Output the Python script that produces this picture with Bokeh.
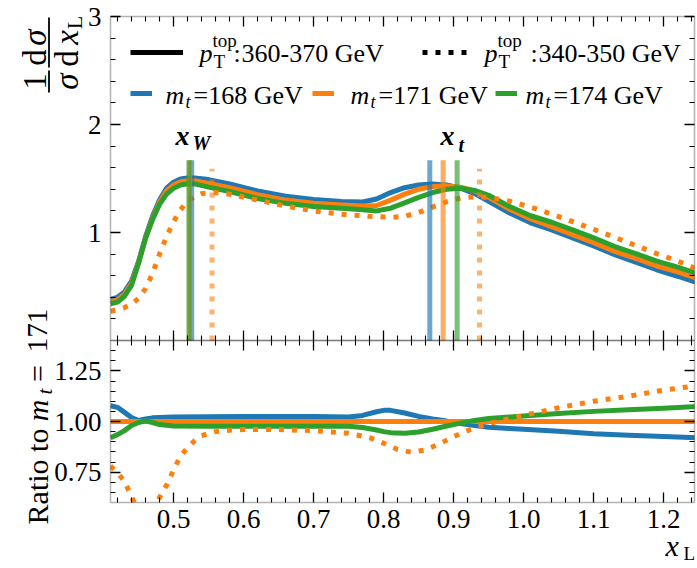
import math
from bokeh.plotting import figure
from bokeh.models import (Range1d, LinearAxis, FixedTicker, PrintfTickFormatter, Label,
                          Legend, LegendItem, BoxAnnotation)
from bokeh.core.properties import value
from bokeh.embed import file_html
from bokeh.resources import INLINE

# ---- normalised x_L distributions, p_T^top 360-370 GeV ----
x_top = [0.41, 0.42, 0.43, 0.44, 0.45, 0.46, 0.47, 0.48, 0.49, 0.50, 0.51, 0.52, 0.53,
         0.55, 0.58, 0.62, 0.66, 0.70, 0.74, 0.77, 0.79,
         0.81, 0.83, 0.85, 0.87, 0.89, 0.91, 0.93, 0.95, 0.98,
         1.01, 1.04, 1.07, 1.10, 1.13, 1.16, 1.19, 1.22, 1.25]
dist_168 = [0.38, 0.40, 0.45, 0.55, 0.73, 0.96, 1.15, 1.30, 1.41, 1.465, 1.495, 1.505, 1.505,
            1.49, 1.45, 1.385, 1.335, 1.305, 1.287, 1.282, 1.31,
            1.37, 1.415, 1.44, 1.45, 1.44, 1.41, 1.36, 1.29, 1.18,
            1.09, 1.025, 0.95, 0.875, 0.795, 0.725, 0.655, 0.595, 0.53]
dist_171 = [0.36, 0.375, 0.43, 0.53, 0.72, 0.945, 1.13, 1.28, 1.385, 1.44, 1.47, 1.48, 1.48,
            1.455, 1.415, 1.35, 1.30, 1.27, 1.255, 1.245, 1.25,
            1.30, 1.355, 1.40, 1.425, 1.43, 1.42, 1.385, 1.325, 1.215,
            1.125, 1.055, 0.98, 0.905, 0.825, 0.76, 0.69, 0.635, 0.57]
dist_174 = [0.34, 0.355, 0.41, 0.51, 0.715, 0.945, 1.12, 1.26, 1.355, 1.41, 1.44, 1.45, 1.45,
            1.42, 1.38, 1.315, 1.27, 1.24, 1.225, 1.21, 1.20,
            1.225, 1.275, 1.325, 1.37, 1.40, 1.41, 1.39, 1.345, 1.24,
            1.155, 1.095, 1.025, 0.95, 0.87, 0.805, 0.735, 0.68, 0.615]

# ---- p_T^top 340-350 GeV, m_t = 171 GeV ----
x_low = [0.41, 0.42, 0.43, 0.44, 0.45, 0.46, 0.47, 0.48, 0.49, 0.50, 0.51, 0.52, 0.53, 0.54,
         0.56, 0.58, 0.62, 0.66, 0.70, 0.74, 0.78,
         0.81, 0.83, 0.85, 0.87, 0.89, 0.91, 0.93, 0.95,
         0.98, 1.01, 1.04, 1.07, 1.10, 1.13, 1.16, 1.19, 1.22, 1.25]
dist_171_low = [0.27, 0.285, 0.305, 0.335, 0.39, 0.48, 0.62, 0.80, 0.96, 1.10, 1.21, 1.29, 1.335, 1.36,
                1.37, 1.355, 1.30, 1.245, 1.20, 1.17, 1.15,
                1.14, 1.15, 1.185, 1.235, 1.285, 1.32, 1.33, 1.325,
                1.29, 1.235, 1.17, 1.10, 1.03, 0.955, 0.88, 0.805, 0.735, 0.655]

# ---- ratios to m_t = 171 GeV ----
x_ratio = [0.41, 0.42, 0.43, 0.44, 0.45, 0.46, 0.47, 0.48, 0.50, 0.55, 0.60, 0.65, 0.70, 0.75,
           0.77, 0.79, 0.80, 0.81, 0.83, 0.85, 0.87, 0.89, 0.91, 0.93, 0.95, 0.98, 1.00,
           1.05, 1.10, 1.15, 1.20, 1.25]
ratio_168 = [1.078, 1.07, 1.045, 1.02, 1.005, 1.012, 1.018, 1.02, 1.022, 1.024, 1.025, 1.025, 1.025, 1.022,
             1.03, 1.048, 1.055, 1.055, 1.042, 1.025, 1.012, 1.002, 0.99, 0.98, 0.972, 0.966, 0.962,
             0.952, 0.94, 0.932, 0.926, 0.92]
ratio_174 = [0.92, 0.935, 0.955, 0.98, 0.995, 1.003, 0.995, 0.985, 0.978, 0.976, 0.977, 0.977, 0.977, 0.976,
             0.97, 0.958, 0.95, 0.945, 0.942, 0.948, 0.962, 0.978, 0.992, 1.005, 1.015, 1.022, 1.027,
             1.04, 1.05, 1.058, 1.065, 1.075]
x_ratio_ref = [0.41, 1.25]
ratio_171 = [1.0, 1.0]
x_ratio_low = [0.41, 0.42, 0.43, 0.44, 0.45, 0.46, 0.47, 0.48, 0.49, 0.50, 0.51, 0.52, 0.53, 0.54,
               0.56, 0.58, 0.60, 0.65, 0.70, 0.75,
               0.78, 0.80, 0.82, 0.84, 0.86, 0.88, 0.90, 0.92, 0.95,
               1.00, 1.05, 1.10, 1.15, 1.20, 1.25]
ratio_171_low = [0.78, 0.745, 0.705, 0.63, 0.555, 0.51, 0.55, 0.625, 0.685, 0.76, 0.83, 0.87, 0.905, 0.93,
                 0.95, 0.957, 0.96, 0.96, 0.955, 0.942,
                 0.92, 0.893, 0.862, 0.848, 0.86, 0.89, 0.925, 0.955, 0.99,
                 1.03, 1.068, 1.10, 1.125, 1.155, 1.178]

# ---- peak positions x_W and x_t ----
mass_labels = ["168", "171", "174"]
colors = ["#1f77b4", "#ff7f0e", "#2ca02c"]
xw_marks = [0.526, 0.523, 0.522]
xt_marks = [0.866, 0.885, 0.905]
xw_mark_low = [0.555]
xt_mark_low = [0.937]
mark_height = 1.67
mark_height_low = 1.59

# ---- axis limits and ticks ----
X_LO, X_HI = 0.41, 1.244
TOP_LO, TOP_HI = 0.0, 3.0
RAT_LO, RAT_HI = 0.6, 1.4
x_major = [0.5, 0.6, 0.7, 0.8, 0.9, 1.0, 1.1, 1.2]
x_minor = [round(0.42 + 0.02 * k, 4) for k in range(42)]
x_minor = [v for v in x_minor if v < X_HI and round(v * 10, 4) % 1]
top_major = [1.0, 2.0, 3.0]
top_minor = [round(0.2 * k, 4) for k in range(1, 15) if k % 5]
ratio_major = [0.75, 1.0, 1.25]
ratio_minor = [round(0.6 + 0.05 * k, 4) for k in range(1, 16)]
ratio_minor = [r for r in ratio_minor if r not in ratio_major]

SERIF = "Liberation Serif"
DOTS = "5 8"

# page geometry: the canvas is the frame; the axes box sits inside it
W, H = 697, 568
BOX_L, BOX_R, BOX_T, DIV, BOX_B = 110, 694, 16, 340, 502
sx = (BOX_R - BOX_L) / (X_HI - X_LO)
sy_top = (DIV - BOX_T) / (TOP_HI - TOP_LO)
sy_rat = (BOX_B - DIV) / (RAT_HI - RAT_LO)

x_range = Range1d(X_LO - BOX_L / sx, X_HI + (W - BOX_R) / sx)
y_range = Range1d(TOP_LO - (H - DIV) / sy_top, TOP_HI + BOX_T / sy_top)
rat_range = Range1d(RAT_LO - (H - BOX_B) / sy_rat, RAT_HI + DIV / sy_rat)
# bottom of the lower panel expressed in the main y range
MAIN_AT_RAT_LO = TOP_LO - (BOX_B - DIV) / sy_top

p = figure(width=W, height=H, title=None, x_range=x_range, y_range=y_range,
           output_backend="svg", toolbar_location=None, min_border=0)
p.extra_y_ranges = {"ratio": rat_range}
p.grid.visible = False
p.outline_line_color = None
p.background_fill_color = "white"
p.border_fill_color = "white"
p.xaxis.visible = False
p.yaxis.visible = False


def tick_axis(side, loc, major, minor, y_range_name="default", labels=False,
              tin=10, tout=0, min_in=5, min_out=0, fmt="%.1f"):
    ax = LinearAxis(fixed_location=loc, y_range_name=y_range_name)
    ax.ticker = FixedTicker(ticks=major if labels else [], minor_ticks=minor if labels else major)
    ax.axis_line_color = None
    ax.level = "overlay"
    ax.major_tick_line_color = "black"
    ax.minor_tick_line_color = "black"
    ax.major_tick_line_width = 1.3
    ax.minor_tick_line_width = 1.3 if not labels else 1.1
    ax.major_tick_in, ax.major_tick_out = tin, tout
    ax.minor_tick_in, ax.minor_tick_out = (min_in, min_out) if labels else (tin, tout)
    if labels:
        ax.formatter = PrintfTickFormatter(format=fmt)
        ax.major_label_text_font = SERIF
        ax.major_label_text_font_size = "27px"
        ax.major_label_text_color = "black"
    p.add_layout(ax, side)
    return ax


def minor_axis(side, loc, minor, y_range_name="default", tin=5, tout=0):
    ax = LinearAxis(fixed_location=loc, y_range_name=y_range_name)
    ax.ticker = FixedTicker(ticks=[], minor_ticks=minor)
    ax.axis_line_color = None
    ax.level = "overlay"
    ax.minor_tick_line_color = "black"
    ax.minor_tick_line_width = 1.1
    ax.minor_tick_in, ax.minor_tick_out = tin, tout
    p.add_layout(ax, side)


# bottom x axis (labelled), top edge and panel divider
xb = tick_axis("below", MAIN_AT_RAT_LO, x_major, x_minor, labels=True)
xb.major_label_standoff = 7
tick_axis("above", TOP_HI, x_major, None)
minor_axis("above", TOP_HI, x_minor)
tick_axis("below", TOP_LO, x_major, None, tout=10)
minor_axis("below", TOP_LO, x_minor, tout=5)

# left y axes (labelled) and right edges
yl = tick_axis("left", X_LO, top_major, top_minor, labels=True, fmt="%d")
yl.major_label_standoff = 9
yr = tick_axis("left", X_LO, ratio_major, ratio_minor, y_range_name="ratio", labels=True, fmt="%.2f")
yr.major_label_standoff = 9
tick_axis("right", X_HI, top_major, None)
minor_axis("right", X_HI, top_minor)
tick_axis("right", X_HI, ratio_major, None, y_range_name="ratio")
minor_axis("right", X_HI, ratio_minor, y_range_name="ratio")

# ---- upper panel: distributions ----
curves = []
for dist, c in zip([dist_168, dist_171, dist_174], colors):
    curves.append(p.line(x_top, dist, line_color=c, line_width=5, line_join="round"))
p.line(x_low, dist_171_low, line_color=colors[1], line_width=5, line_dash=DOTS)

# peak markers
for xw, xt, c in zip(xw_marks, xt_marks, colors):
    p.segment(x0=[xw, xt], y0=[TOP_LO, TOP_LO], x1=[xw, xt], y1=[mark_height, mark_height],
              line_color=c, line_alpha=0.65, line_width=5)
p.segment(x0=xw_mark_low + xt_mark_low, y0=[TOP_LO, TOP_LO], x1=xw_mark_low + xt_mark_low,
          y1=[mark_height_low, mark_height_low],
          line_color=colors[1], line_alpha=0.6, line_width=5, line_dash=DOTS)

# ---- lower panel: ratios ----
p.line(x_ratio, ratio_168, line_color=colors[0], line_width=5, y_range_name="ratio", line_join="round")
p.line(x_ratio_ref, ratio_171, line_color=colors[1], line_width=5, y_range_name="ratio")
p.line(x_ratio, ratio_174, line_color=colors[2], line_width=5, y_range_name="ratio", line_join="round")
p.line(x_ratio_low, ratio_171_low, line_color=colors[1], line_width=5, line_dash=DOTS,
       y_range_name="ratio")

# legend keys for the two p_T bins (no visible data of their own)
solid_key = p.line(x=[math.nan], y=[math.nan], line_color="black", line_width=5)
dotted_key = p.line(x=[math.nan], y=[math.nan], line_color="black", line_width=5, line_dash=DOTS)

# white masks around the axes box, then the box outlines on top
for kw in [dict(right=X_LO), dict(left=X_HI), dict(bottom=TOP_HI), dict(top=MAIN_AT_RAT_LO)]:
    p.add_layout(BoxAnnotation(fill_color="white", fill_alpha=1.0, line_color=None,
                               level="guide", **kw))
for lo, hi in [(TOP_LO, TOP_HI), (MAIN_AT_RAT_LO, TOP_LO)]:
    p.add_layout(BoxAnnotation(left=X_LO, right=X_HI, bottom=lo, top=hi, fill_alpha=0,
                               line_color="black", line_width=1.5, level="overlay"))

# ---- text helpers (page pixels, origin top-left, baseline positions) ----
UP = math.pi / 2
BASE = 0.27  # shift from the text box bottom to the alphabetic baseline, in em


def label(text, px, py, size, style="normal", align="left", angle=0.0):
    if angle:
        px = px - BASE * size
    else:
        py = py - BASE * size
    p.add_layout(Label(x=px, y=H - py, x_units="screen", y_units="screen", text=text,
                       text_font=SERIF, text_font_size=f"{size}px", text_font_style=style,
                       text_align=align, text_baseline="alphabetic", angle=angle,
                       text_color="black"))


def swatch(renderer, px0, px1, pyc):
    leg = Legend(items=[LegendItem(label=value(""), renderers=[renderer])],
                 location=(px0, H - (pyc + 5)), orientation="horizontal",
                 glyph_width=px1 - px0, glyph_height=10, label_width=0, label_height=0,
                 label_standoff=0, padding=0, spacing=0, margin=0,
                 border_line_color=None, background_fill_alpha=0,
                 label_text_font_size="1px")
    p.add_layout(leg)


def bar(px, py0, py1):
    p.add_layout(BoxAnnotation(left=px - 0.9, right=px + 0.9, top=H - py0, bottom=H - py1,
                               left_units="screen", right_units="screen",
                               top_units="screen", bottom_units="screen",
                               fill_color="black", fill_alpha=1.0, line_color=None,
                               level="annotation"))


# legend
swatch(solid_key, 130, 183, 52)
label("p", 199, 60, 26, "italic")
label("top", 212, 45, 19)
label("T", 213, 66, 19)
label(":", 233, 60, 26)
label("360-370 GeV", 241, 60, 26)

swatch(dotted_key, 422, 468, 52)
label("p", 484, 60, 26, "italic")
label("top", 497, 45, 19)
label("T", 498, 66, 19)
label(":", 530, 60, 26)
label("340-350 GeV", 538, 60, 26)

for r, m, x0, xm in zip(curves, mass_labels, [130, 312, 495], [165, 350, 525]):
    swatch(r, x0, x0 + 22, 93)
    label("m", xm, 102, 26, "italic")
    label("t", xm + 20, 106, 18, "italic")
    label("=" + m + " GeV", xm + 28, 102, 26)

# peak annotations
label("x", 175, 143, 28, "bold italic")
label("W", 192, 148, 20, "bold italic")
label("x", 440, 143, 28, "bold italic")
label("t", 458, 150, 20, "bold italic")

# x axis title
label("x", 665, 553, 30, "italic")
label("L", 683, 558, 19)

# y axis title, upper panel: (1/sigma) dsigma/dx_L
label("1", 43, 81, 33, align="center", angle=UP)
label("d", 43, 57, 33, align="center", angle=UP)
label("σ", 43, 37, 33, "italic", align="center", angle=UP)
label("σ", 75, 81, 33, "italic", align="center", angle=UP)
label("d", 75, 58, 33, align="center", angle=UP)
label("x", 75, 37, 33, "italic", align="center", angle=UP)
label("L", 80, 22, 22, align="center", angle=UP)
bar(48.5, 70, 92)
bar(48.5, 17, 67)

# y axis title, lower panel
label("Ratio to", 45, 476, 30, align="center", angle=UP)
label("m", 45, 410, 30, "italic", align="center", angle=UP)
label("t", 50, 391, 21, "italic", align="center", angle=UP)
label("=", 45, 373, 30, align="center", angle=UP)
label("171", 45, 330, 29, align="center", angle=UP)

open("out.html", "w").write(file_html(p, INLINE))
